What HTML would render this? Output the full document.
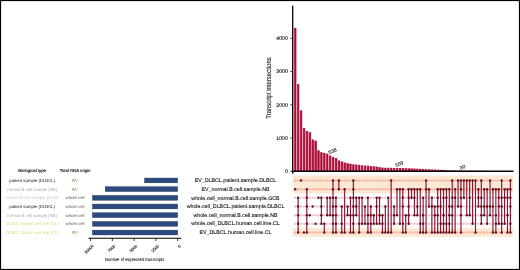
<!DOCTYPE html><html><head><meta charset="utf-8"><style>html,body{margin:0;padding:0;background:#fff;}svg{display:block;will-change:transform;}text{font-family:"Liberation Sans", sans-serif;text-rendering:geometricPrecision;}</style></head><body>
<svg width="520" height="270" viewBox="0 0 520 270">
<defs><linearGradient id="bg" x1="0" y1="0" x2="1" y2="0"><stop offset="0" stop-color="#ec8aa4"/><stop offset="0.28" stop-color="#ba2a50"/><stop offset="0.55" stop-color="#920e34"/><stop offset="0.8" stop-color="#b42348"/><stop offset="1" stop-color="#ec8aa4"/></linearGradient></defs>
<rect x="0" y="0" width="520" height="270" fill="#fff"/>
<rect x="292.6" y="175.5" width="220.40" height="17.97" fill="#fde8d3"/>
<rect x="292.6" y="228.19" width="220.40" height="8.68" fill="#fde8d3"/>
<circle cx="295.20" cy="180.45" r="1.25" fill="#f2bba8"/>
<circle cx="295.20" cy="197.81" r="1.25" fill="#e6c9d2"/>
<circle cx="295.20" cy="206.49" r="1.25" fill="#e6c9d2"/>
<circle cx="295.20" cy="215.17" r="1.25" fill="#e6c9d2"/>
<circle cx="295.20" cy="223.85" r="1.25" fill="#e6c9d2"/>
<circle cx="295.20" cy="232.53" r="1.25" fill="#f2bba8"/>
<circle cx="298.11" cy="180.45" r="1.25" fill="#f2bba8"/>
<circle cx="298.11" cy="189.13" r="1.25" fill="#f2bba8"/>
<circle cx="301.02" cy="189.13" r="1.25" fill="#f2bba8"/>
<circle cx="301.02" cy="197.81" r="1.25" fill="#e6c9d2"/>
<circle cx="301.02" cy="206.49" r="1.25" fill="#e6c9d2"/>
<circle cx="301.02" cy="215.17" r="1.25" fill="#e6c9d2"/>
<circle cx="301.02" cy="223.85" r="1.25" fill="#e6c9d2"/>
<circle cx="301.02" cy="232.53" r="1.25" fill="#f2bba8"/>
<circle cx="303.92" cy="180.45" r="1.25" fill="#f2bba8"/>
<circle cx="303.92" cy="189.13" r="1.25" fill="#f2bba8"/>
<circle cx="303.92" cy="197.81" r="1.25" fill="#e6c9d2"/>
<circle cx="303.92" cy="206.49" r="1.25" fill="#e6c9d2"/>
<circle cx="303.92" cy="215.17" r="1.25" fill="#e6c9d2"/>
<circle cx="303.92" cy="223.85" r="1.25" fill="#e6c9d2"/>
<circle cx="306.83" cy="180.45" r="1.25" fill="#f2bba8"/>
<circle cx="309.74" cy="180.45" r="1.25" fill="#f2bba8"/>
<circle cx="309.74" cy="189.13" r="1.25" fill="#f2bba8"/>
<circle cx="309.74" cy="197.81" r="1.25" fill="#e6c9d2"/>
<circle cx="309.74" cy="206.49" r="1.25" fill="#e6c9d2"/>
<circle cx="309.74" cy="223.85" r="1.25" fill="#e6c9d2"/>
<circle cx="309.74" cy="232.53" r="1.25" fill="#f2bba8"/>
<circle cx="312.65" cy="180.45" r="1.25" fill="#f2bba8"/>
<circle cx="312.65" cy="189.13" r="1.25" fill="#f2bba8"/>
<circle cx="312.65" cy="197.81" r="1.25" fill="#e6c9d2"/>
<circle cx="312.65" cy="215.17" r="1.25" fill="#e6c9d2"/>
<circle cx="312.65" cy="223.85" r="1.25" fill="#e6c9d2"/>
<circle cx="312.65" cy="232.53" r="1.25" fill="#f2bba8"/>
<circle cx="315.56" cy="180.45" r="1.25" fill="#f2bba8"/>
<circle cx="315.56" cy="189.13" r="1.25" fill="#f2bba8"/>
<circle cx="315.56" cy="197.81" r="1.25" fill="#e6c9d2"/>
<circle cx="315.56" cy="206.49" r="1.25" fill="#e6c9d2"/>
<circle cx="315.56" cy="215.17" r="1.25" fill="#e6c9d2"/>
<circle cx="315.56" cy="232.53" r="1.25" fill="#f2bba8"/>
<circle cx="318.46" cy="180.45" r="1.25" fill="#f2bba8"/>
<circle cx="318.46" cy="189.13" r="1.25" fill="#f2bba8"/>
<circle cx="318.46" cy="206.49" r="1.25" fill="#e6c9d2"/>
<circle cx="318.46" cy="215.17" r="1.25" fill="#e6c9d2"/>
<circle cx="318.46" cy="223.85" r="1.25" fill="#e6c9d2"/>
<circle cx="318.46" cy="232.53" r="1.25" fill="#f2bba8"/>
<circle cx="321.37" cy="180.45" r="1.25" fill="#f2bba8"/>
<circle cx="321.37" cy="189.13" r="1.25" fill="#f2bba8"/>
<circle cx="321.37" cy="232.53" r="1.25" fill="#f2bba8"/>
<circle cx="324.28" cy="180.45" r="1.25" fill="#f2bba8"/>
<circle cx="324.28" cy="189.13" r="1.25" fill="#f2bba8"/>
<circle cx="324.28" cy="197.81" r="1.25" fill="#e6c9d2"/>
<circle cx="324.28" cy="206.49" r="1.25" fill="#e6c9d2"/>
<circle cx="324.28" cy="215.17" r="1.25" fill="#e6c9d2"/>
<circle cx="327.19" cy="180.45" r="1.25" fill="#f2bba8"/>
<circle cx="327.19" cy="189.13" r="1.25" fill="#f2bba8"/>
<circle cx="327.19" cy="206.49" r="1.25" fill="#e6c9d2"/>
<circle cx="327.19" cy="223.85" r="1.25" fill="#e6c9d2"/>
<circle cx="327.19" cy="232.53" r="1.25" fill="#f2bba8"/>
<circle cx="330.10" cy="180.45" r="1.25" fill="#f2bba8"/>
<circle cx="330.10" cy="189.13" r="1.25" fill="#f2bba8"/>
<circle cx="330.10" cy="206.49" r="1.25" fill="#e6c9d2"/>
<circle cx="330.10" cy="223.85" r="1.25" fill="#e6c9d2"/>
<circle cx="330.10" cy="232.53" r="1.25" fill="#f2bba8"/>
<circle cx="335.91" cy="180.45" r="1.25" fill="#f2bba8"/>
<circle cx="335.91" cy="189.13" r="1.25" fill="#f2bba8"/>
<circle cx="338.82" cy="197.81" r="1.25" fill="#e6c9d2"/>
<circle cx="338.82" cy="206.49" r="1.25" fill="#e6c9d2"/>
<circle cx="338.82" cy="215.17" r="1.25" fill="#e6c9d2"/>
<circle cx="338.82" cy="223.85" r="1.25" fill="#e6c9d2"/>
<circle cx="338.82" cy="232.53" r="1.25" fill="#f2bba8"/>
<circle cx="341.73" cy="180.45" r="1.25" fill="#f2bba8"/>
<circle cx="341.73" cy="189.13" r="1.25" fill="#f2bba8"/>
<circle cx="341.73" cy="197.81" r="1.25" fill="#e6c9d2"/>
<circle cx="341.73" cy="215.17" r="1.25" fill="#e6c9d2"/>
<circle cx="344.64" cy="180.45" r="1.25" fill="#f2bba8"/>
<circle cx="344.64" cy="197.81" r="1.25" fill="#e6c9d2"/>
<circle cx="344.64" cy="206.49" r="1.25" fill="#e6c9d2"/>
<circle cx="344.64" cy="215.17" r="1.25" fill="#e6c9d2"/>
<circle cx="344.64" cy="223.85" r="1.25" fill="#e6c9d2"/>
<circle cx="347.54" cy="180.45" r="1.25" fill="#f2bba8"/>
<circle cx="347.54" cy="189.13" r="1.25" fill="#f2bba8"/>
<circle cx="347.54" cy="197.81" r="1.25" fill="#e6c9d2"/>
<circle cx="347.54" cy="223.85" r="1.25" fill="#e6c9d2"/>
<circle cx="347.54" cy="232.53" r="1.25" fill="#f2bba8"/>
<circle cx="350.45" cy="180.45" r="1.25" fill="#f2bba8"/>
<circle cx="350.45" cy="189.13" r="1.25" fill="#f2bba8"/>
<circle cx="350.45" cy="206.49" r="1.25" fill="#e6c9d2"/>
<circle cx="350.45" cy="223.85" r="1.25" fill="#e6c9d2"/>
<circle cx="356.27" cy="180.45" r="1.25" fill="#f2bba8"/>
<circle cx="356.27" cy="189.13" r="1.25" fill="#f2bba8"/>
<circle cx="356.27" cy="223.85" r="1.25" fill="#e6c9d2"/>
<circle cx="356.27" cy="232.53" r="1.25" fill="#f2bba8"/>
<circle cx="359.18" cy="180.45" r="1.25" fill="#f2bba8"/>
<circle cx="359.18" cy="189.13" r="1.25" fill="#f2bba8"/>
<circle cx="359.18" cy="206.49" r="1.25" fill="#e6c9d2"/>
<circle cx="359.18" cy="215.17" r="1.25" fill="#e6c9d2"/>
<circle cx="362.08" cy="180.45" r="1.25" fill="#f2bba8"/>
<circle cx="362.08" cy="189.13" r="1.25" fill="#f2bba8"/>
<circle cx="362.08" cy="206.49" r="1.25" fill="#e6c9d2"/>
<circle cx="362.08" cy="215.17" r="1.25" fill="#e6c9d2"/>
<circle cx="362.08" cy="232.53" r="1.25" fill="#f2bba8"/>
<circle cx="364.99" cy="180.45" r="1.25" fill="#f2bba8"/>
<circle cx="364.99" cy="189.13" r="1.25" fill="#f2bba8"/>
<circle cx="364.99" cy="197.81" r="1.25" fill="#e6c9d2"/>
<circle cx="364.99" cy="215.17" r="1.25" fill="#e6c9d2"/>
<circle cx="364.99" cy="232.53" r="1.25" fill="#f2bba8"/>
<circle cx="367.90" cy="180.45" r="1.25" fill="#f2bba8"/>
<circle cx="367.90" cy="189.13" r="1.25" fill="#f2bba8"/>
<circle cx="367.90" cy="206.49" r="1.25" fill="#e6c9d2"/>
<circle cx="370.81" cy="180.45" r="1.25" fill="#f2bba8"/>
<circle cx="370.81" cy="189.13" r="1.25" fill="#f2bba8"/>
<circle cx="370.81" cy="197.81" r="1.25" fill="#e6c9d2"/>
<circle cx="373.72" cy="180.45" r="1.25" fill="#f2bba8"/>
<circle cx="373.72" cy="189.13" r="1.25" fill="#f2bba8"/>
<circle cx="373.72" cy="197.81" r="1.25" fill="#e6c9d2"/>
<circle cx="373.72" cy="206.49" r="1.25" fill="#e6c9d2"/>
<circle cx="373.72" cy="232.53" r="1.25" fill="#f2bba8"/>
<circle cx="376.62" cy="180.45" r="1.25" fill="#f2bba8"/>
<circle cx="376.62" cy="189.13" r="1.25" fill="#f2bba8"/>
<circle cx="376.62" cy="215.17" r="1.25" fill="#e6c9d2"/>
<circle cx="376.62" cy="232.53" r="1.25" fill="#f2bba8"/>
<circle cx="379.53" cy="180.45" r="1.25" fill="#f2bba8"/>
<circle cx="379.53" cy="189.13" r="1.25" fill="#f2bba8"/>
<circle cx="379.53" cy="206.49" r="1.25" fill="#e6c9d2"/>
<circle cx="379.53" cy="232.53" r="1.25" fill="#f2bba8"/>
<circle cx="382.44" cy="180.45" r="1.25" fill="#f2bba8"/>
<circle cx="382.44" cy="189.13" r="1.25" fill="#f2bba8"/>
<circle cx="382.44" cy="197.81" r="1.25" fill="#e6c9d2"/>
<circle cx="382.44" cy="206.49" r="1.25" fill="#e6c9d2"/>
<circle cx="385.35" cy="180.45" r="1.25" fill="#f2bba8"/>
<circle cx="385.35" cy="189.13" r="1.25" fill="#f2bba8"/>
<circle cx="385.35" cy="197.81" r="1.25" fill="#e6c9d2"/>
<circle cx="385.35" cy="215.17" r="1.25" fill="#e6c9d2"/>
<circle cx="385.35" cy="223.85" r="1.25" fill="#e6c9d2"/>
<circle cx="388.26" cy="180.45" r="1.25" fill="#f2bba8"/>
<circle cx="388.26" cy="189.13" r="1.25" fill="#f2bba8"/>
<circle cx="388.26" cy="206.49" r="1.25" fill="#e6c9d2"/>
<circle cx="388.26" cy="215.17" r="1.25" fill="#e6c9d2"/>
<circle cx="388.26" cy="223.85" r="1.25" fill="#e6c9d2"/>
<circle cx="391.16" cy="189.13" r="1.25" fill="#f2bba8"/>
<circle cx="391.16" cy="197.81" r="1.25" fill="#e6c9d2"/>
<circle cx="391.16" cy="206.49" r="1.25" fill="#e6c9d2"/>
<circle cx="391.16" cy="215.17" r="1.25" fill="#e6c9d2"/>
<circle cx="391.16" cy="223.85" r="1.25" fill="#e6c9d2"/>
<circle cx="394.07" cy="180.45" r="1.25" fill="#f2bba8"/>
<circle cx="394.07" cy="189.13" r="1.25" fill="#f2bba8"/>
<circle cx="394.07" cy="197.81" r="1.25" fill="#e6c9d2"/>
<circle cx="394.07" cy="232.53" r="1.25" fill="#f2bba8"/>
<circle cx="396.98" cy="180.45" r="1.25" fill="#f2bba8"/>
<circle cx="396.98" cy="197.81" r="1.25" fill="#e6c9d2"/>
<circle cx="396.98" cy="206.49" r="1.25" fill="#e6c9d2"/>
<circle cx="396.98" cy="223.85" r="1.25" fill="#e6c9d2"/>
<circle cx="396.98" cy="232.53" r="1.25" fill="#f2bba8"/>
<circle cx="399.89" cy="180.45" r="1.25" fill="#f2bba8"/>
<circle cx="399.89" cy="197.81" r="1.25" fill="#e6c9d2"/>
<circle cx="399.89" cy="206.49" r="1.25" fill="#e6c9d2"/>
<circle cx="399.89" cy="215.17" r="1.25" fill="#e6c9d2"/>
<circle cx="399.89" cy="232.53" r="1.25" fill="#f2bba8"/>
<circle cx="402.80" cy="180.45" r="1.25" fill="#f2bba8"/>
<circle cx="402.80" cy="215.17" r="1.25" fill="#e6c9d2"/>
<circle cx="405.70" cy="180.45" r="1.25" fill="#f2bba8"/>
<circle cx="405.70" cy="189.13" r="1.25" fill="#f2bba8"/>
<circle cx="405.70" cy="197.81" r="1.25" fill="#e6c9d2"/>
<circle cx="405.70" cy="206.49" r="1.25" fill="#e6c9d2"/>
<circle cx="405.70" cy="223.85" r="1.25" fill="#e6c9d2"/>
<circle cx="408.61" cy="180.45" r="1.25" fill="#f2bba8"/>
<circle cx="408.61" cy="232.53" r="1.25" fill="#f2bba8"/>
<circle cx="411.52" cy="180.45" r="1.25" fill="#f2bba8"/>
<circle cx="411.52" cy="206.49" r="1.25" fill="#e6c9d2"/>
<circle cx="411.52" cy="215.17" r="1.25" fill="#e6c9d2"/>
<circle cx="411.52" cy="223.85" r="1.25" fill="#e6c9d2"/>
<circle cx="411.52" cy="232.53" r="1.25" fill="#f2bba8"/>
<circle cx="414.43" cy="180.45" r="1.25" fill="#f2bba8"/>
<circle cx="414.43" cy="206.49" r="1.25" fill="#e6c9d2"/>
<circle cx="414.43" cy="223.85" r="1.25" fill="#e6c9d2"/>
<circle cx="414.43" cy="232.53" r="1.25" fill="#f2bba8"/>
<circle cx="417.34" cy="180.45" r="1.25" fill="#f2bba8"/>
<circle cx="417.34" cy="197.81" r="1.25" fill="#e6c9d2"/>
<circle cx="417.34" cy="223.85" r="1.25" fill="#e6c9d2"/>
<circle cx="417.34" cy="232.53" r="1.25" fill="#f2bba8"/>
<circle cx="420.24" cy="180.45" r="1.25" fill="#f2bba8"/>
<circle cx="420.24" cy="197.81" r="1.25" fill="#e6c9d2"/>
<circle cx="420.24" cy="206.49" r="1.25" fill="#e6c9d2"/>
<circle cx="420.24" cy="215.17" r="1.25" fill="#e6c9d2"/>
<circle cx="423.15" cy="180.45" r="1.25" fill="#f2bba8"/>
<circle cx="423.15" cy="189.13" r="1.25" fill="#f2bba8"/>
<circle cx="423.15" cy="206.49" r="1.25" fill="#e6c9d2"/>
<circle cx="426.06" cy="197.81" r="1.25" fill="#e6c9d2"/>
<circle cx="426.06" cy="206.49" r="1.25" fill="#e6c9d2"/>
<circle cx="426.06" cy="215.17" r="1.25" fill="#e6c9d2"/>
<circle cx="426.06" cy="223.85" r="1.25" fill="#e6c9d2"/>
<circle cx="428.97" cy="180.45" r="1.25" fill="#f2bba8"/>
<circle cx="428.97" cy="197.81" r="1.25" fill="#e6c9d2"/>
<circle cx="428.97" cy="215.17" r="1.25" fill="#e6c9d2"/>
<circle cx="428.97" cy="223.85" r="1.25" fill="#e6c9d2"/>
<circle cx="428.97" cy="232.53" r="1.25" fill="#f2bba8"/>
<circle cx="431.88" cy="180.45" r="1.25" fill="#f2bba8"/>
<circle cx="431.88" cy="189.13" r="1.25" fill="#f2bba8"/>
<circle cx="431.88" cy="215.17" r="1.25" fill="#e6c9d2"/>
<circle cx="431.88" cy="223.85" r="1.25" fill="#e6c9d2"/>
<circle cx="434.78" cy="180.45" r="1.25" fill="#f2bba8"/>
<circle cx="434.78" cy="189.13" r="1.25" fill="#f2bba8"/>
<circle cx="434.78" cy="197.81" r="1.25" fill="#e6c9d2"/>
<circle cx="434.78" cy="223.85" r="1.25" fill="#e6c9d2"/>
<circle cx="437.69" cy="180.45" r="1.25" fill="#f2bba8"/>
<circle cx="437.69" cy="223.85" r="1.25" fill="#e6c9d2"/>
<circle cx="440.60" cy="180.45" r="1.25" fill="#f2bba8"/>
<circle cx="440.60" cy="197.81" r="1.25" fill="#e6c9d2"/>
<circle cx="440.60" cy="215.17" r="1.25" fill="#e6c9d2"/>
<circle cx="443.51" cy="180.45" r="1.25" fill="#f2bba8"/>
<circle cx="443.51" cy="206.49" r="1.25" fill="#e6c9d2"/>
<circle cx="446.42" cy="180.45" r="1.25" fill="#f2bba8"/>
<circle cx="446.42" cy="206.49" r="1.25" fill="#e6c9d2"/>
<circle cx="446.42" cy="215.17" r="1.25" fill="#e6c9d2"/>
<circle cx="449.32" cy="180.45" r="1.25" fill="#f2bba8"/>
<circle cx="449.32" cy="197.81" r="1.25" fill="#e6c9d2"/>
<circle cx="452.23" cy="189.13" r="1.25" fill="#f2bba8"/>
<circle cx="452.23" cy="223.85" r="1.25" fill="#e6c9d2"/>
<circle cx="455.14" cy="180.45" r="1.25" fill="#f2bba8"/>
<circle cx="455.14" cy="206.49" r="1.25" fill="#e6c9d2"/>
<circle cx="455.14" cy="215.17" r="1.25" fill="#e6c9d2"/>
<circle cx="455.14" cy="223.85" r="1.25" fill="#e6c9d2"/>
<circle cx="458.05" cy="189.13" r="1.25" fill="#f2bba8"/>
<circle cx="458.05" cy="197.81" r="1.25" fill="#e6c9d2"/>
<circle cx="458.05" cy="215.17" r="1.25" fill="#e6c9d2"/>
<circle cx="458.05" cy="223.85" r="1.25" fill="#e6c9d2"/>
<circle cx="458.05" cy="232.53" r="1.25" fill="#f2bba8"/>
<circle cx="460.96" cy="223.85" r="1.25" fill="#e6c9d2"/>
<circle cx="463.86" cy="189.13" r="1.25" fill="#f2bba8"/>
<circle cx="463.86" cy="206.49" r="1.25" fill="#e6c9d2"/>
<circle cx="463.86" cy="215.17" r="1.25" fill="#e6c9d2"/>
<circle cx="463.86" cy="223.85" r="1.25" fill="#e6c9d2"/>
<circle cx="463.86" cy="232.53" r="1.25" fill="#f2bba8"/>
<circle cx="466.77" cy="189.13" r="1.25" fill="#f2bba8"/>
<circle cx="466.77" cy="197.81" r="1.25" fill="#e6c9d2"/>
<circle cx="466.77" cy="206.49" r="1.25" fill="#e6c9d2"/>
<circle cx="466.77" cy="223.85" r="1.25" fill="#e6c9d2"/>
<circle cx="466.77" cy="232.53" r="1.25" fill="#f2bba8"/>
<circle cx="469.68" cy="189.13" r="1.25" fill="#f2bba8"/>
<circle cx="469.68" cy="206.49" r="1.25" fill="#e6c9d2"/>
<circle cx="469.68" cy="223.85" r="1.25" fill="#e6c9d2"/>
<circle cx="469.68" cy="232.53" r="1.25" fill="#f2bba8"/>
<circle cx="472.59" cy="189.13" r="1.25" fill="#f2bba8"/>
<circle cx="472.59" cy="197.81" r="1.25" fill="#e6c9d2"/>
<circle cx="472.59" cy="206.49" r="1.25" fill="#e6c9d2"/>
<circle cx="472.59" cy="215.17" r="1.25" fill="#e6c9d2"/>
<circle cx="472.59" cy="232.53" r="1.25" fill="#f2bba8"/>
<circle cx="475.50" cy="189.13" r="1.25" fill="#f2bba8"/>
<circle cx="475.50" cy="197.81" r="1.25" fill="#e6c9d2"/>
<circle cx="475.50" cy="206.49" r="1.25" fill="#e6c9d2"/>
<circle cx="475.50" cy="215.17" r="1.25" fill="#e6c9d2"/>
<circle cx="475.50" cy="223.85" r="1.25" fill="#e6c9d2"/>
<circle cx="478.40" cy="180.45" r="1.25" fill="#f2bba8"/>
<circle cx="478.40" cy="215.17" r="1.25" fill="#e6c9d2"/>
<circle cx="478.40" cy="223.85" r="1.25" fill="#e6c9d2"/>
<circle cx="478.40" cy="232.53" r="1.25" fill="#f2bba8"/>
<circle cx="481.31" cy="189.13" r="1.25" fill="#f2bba8"/>
<circle cx="481.31" cy="232.53" r="1.25" fill="#f2bba8"/>
<circle cx="484.22" cy="180.45" r="1.25" fill="#f2bba8"/>
<circle cx="484.22" cy="197.81" r="1.25" fill="#e6c9d2"/>
<circle cx="484.22" cy="223.85" r="1.25" fill="#e6c9d2"/>
<circle cx="484.22" cy="232.53" r="1.25" fill="#f2bba8"/>
<circle cx="487.13" cy="180.45" r="1.25" fill="#f2bba8"/>
<circle cx="487.13" cy="197.81" r="1.25" fill="#e6c9d2"/>
<circle cx="487.13" cy="215.17" r="1.25" fill="#e6c9d2"/>
<circle cx="487.13" cy="232.53" r="1.25" fill="#f2bba8"/>
<circle cx="490.04" cy="189.13" r="1.25" fill="#f2bba8"/>
<circle cx="490.04" cy="197.81" r="1.25" fill="#e6c9d2"/>
<circle cx="490.04" cy="223.85" r="1.25" fill="#e6c9d2"/>
<circle cx="490.04" cy="232.53" r="1.25" fill="#f2bba8"/>
<circle cx="492.94" cy="180.45" r="1.25" fill="#f2bba8"/>
<circle cx="492.94" cy="197.81" r="1.25" fill="#e6c9d2"/>
<circle cx="492.94" cy="215.17" r="1.25" fill="#e6c9d2"/>
<circle cx="492.94" cy="223.85" r="1.25" fill="#e6c9d2"/>
<circle cx="495.85" cy="180.45" r="1.25" fill="#f2bba8"/>
<circle cx="495.85" cy="197.81" r="1.25" fill="#e6c9d2"/>
<circle cx="495.85" cy="206.49" r="1.25" fill="#e6c9d2"/>
<circle cx="498.76" cy="180.45" r="1.25" fill="#f2bba8"/>
<circle cx="498.76" cy="215.17" r="1.25" fill="#e6c9d2"/>
<circle cx="498.76" cy="232.53" r="1.25" fill="#f2bba8"/>
<circle cx="501.67" cy="189.13" r="1.25" fill="#f2bba8"/>
<circle cx="501.67" cy="215.17" r="1.25" fill="#e6c9d2"/>
<circle cx="504.58" cy="180.45" r="1.25" fill="#f2bba8"/>
<circle cx="504.58" cy="206.49" r="1.25" fill="#e6c9d2"/>
<circle cx="504.58" cy="215.17" r="1.25" fill="#e6c9d2"/>
<circle cx="504.58" cy="232.53" r="1.25" fill="#f2bba8"/>
<circle cx="507.48" cy="180.45" r="1.25" fill="#f2bba8"/>
<circle cx="507.48" cy="206.49" r="1.25" fill="#e6c9d2"/>
<circle cx="507.48" cy="223.85" r="1.25" fill="#e6c9d2"/>
<circle cx="510.39" cy="215.17" r="1.25" fill="#e6c9d2"/>
<circle cx="295.20" cy="189.13" r="1.25" fill="#6c0920"/>
<line x1="298.11" y1="197.81" x2="298.11" y2="232.53" stroke="#8a1232" stroke-width="1.15"/>
<circle cx="298.11" cy="197.81" r="1.25" fill="#6c0920"/>
<circle cx="298.11" cy="206.49" r="1.25" fill="#6c0920"/>
<circle cx="298.11" cy="215.17" r="1.25" fill="#6c0920"/>
<circle cx="298.11" cy="223.85" r="1.25" fill="#6c0920"/>
<circle cx="298.11" cy="232.53" r="1.25" fill="#6c0920"/>
<circle cx="301.02" cy="180.45" r="1.25" fill="#6c0920"/>
<circle cx="303.92" cy="232.53" r="1.25" fill="#6c0920"/>
<line x1="306.83" y1="189.13" x2="306.83" y2="232.53" stroke="#8a1232" stroke-width="1.15"/>
<circle cx="306.83" cy="189.13" r="1.25" fill="#6c0920"/>
<circle cx="306.83" cy="197.81" r="1.25" fill="#6c0920"/>
<circle cx="306.83" cy="206.49" r="1.25" fill="#6c0920"/>
<circle cx="306.83" cy="215.17" r="1.25" fill="#6c0920"/>
<circle cx="306.83" cy="223.85" r="1.25" fill="#6c0920"/>
<circle cx="306.83" cy="232.53" r="1.25" fill="#6c0920"/>
<circle cx="309.74" cy="215.17" r="1.25" fill="#6c0920"/>
<circle cx="312.65" cy="206.49" r="1.25" fill="#6c0920"/>
<circle cx="315.56" cy="223.85" r="1.25" fill="#6c0920"/>
<circle cx="318.46" cy="197.81" r="1.25" fill="#6c0920"/>
<line x1="321.37" y1="197.81" x2="321.37" y2="223.85" stroke="#8a1232" stroke-width="1.15"/>
<circle cx="321.37" cy="197.81" r="1.25" fill="#6c0920"/>
<circle cx="321.37" cy="206.49" r="1.25" fill="#6c0920"/>
<circle cx="321.37" cy="215.17" r="1.25" fill="#6c0920"/>
<circle cx="321.37" cy="223.85" r="1.25" fill="#6c0920"/>
<line x1="324.28" y1="223.85" x2="324.28" y2="232.53" stroke="#8a1232" stroke-width="1.15"/>
<circle cx="324.28" cy="223.85" r="1.25" fill="#6c0920"/>
<circle cx="324.28" cy="232.53" r="1.25" fill="#6c0920"/>
<line x1="327.19" y1="197.81" x2="327.19" y2="215.17" stroke="#8a1232" stroke-width="1.15"/>
<circle cx="327.19" cy="197.81" r="1.25" fill="#6c0920"/>
<circle cx="327.19" cy="215.17" r="1.25" fill="#6c0920"/>
<line x1="330.10" y1="197.81" x2="330.10" y2="215.17" stroke="#8a1232" stroke-width="1.15"/>
<circle cx="330.10" cy="197.81" r="1.25" fill="#6c0920"/>
<circle cx="330.10" cy="215.17" r="1.25" fill="#6c0920"/>
<line x1="333.00" y1="180.45" x2="333.00" y2="232.53" stroke="#8a1232" stroke-width="1.15"/>
<circle cx="333.00" cy="180.45" r="1.25" fill="#6c0920"/>
<circle cx="333.00" cy="189.13" r="1.25" fill="#6c0920"/>
<circle cx="333.00" cy="197.81" r="1.25" fill="#6c0920"/>
<circle cx="333.00" cy="206.49" r="1.25" fill="#6c0920"/>
<circle cx="333.00" cy="215.17" r="1.25" fill="#6c0920"/>
<circle cx="333.00" cy="223.85" r="1.25" fill="#6c0920"/>
<circle cx="333.00" cy="232.53" r="1.25" fill="#6c0920"/>
<line x1="335.91" y1="197.81" x2="335.91" y2="232.53" stroke="#8a1232" stroke-width="1.15"/>
<circle cx="335.91" cy="197.81" r="1.25" fill="#6c0920"/>
<circle cx="335.91" cy="206.49" r="1.25" fill="#6c0920"/>
<circle cx="335.91" cy="215.17" r="1.25" fill="#6c0920"/>
<circle cx="335.91" cy="223.85" r="1.25" fill="#6c0920"/>
<circle cx="335.91" cy="232.53" r="1.25" fill="#6c0920"/>
<line x1="338.82" y1="180.45" x2="338.82" y2="189.13" stroke="#8a1232" stroke-width="1.15"/>
<circle cx="338.82" cy="180.45" r="1.25" fill="#6c0920"/>
<circle cx="338.82" cy="189.13" r="1.25" fill="#6c0920"/>
<line x1="341.73" y1="206.49" x2="341.73" y2="232.53" stroke="#8a1232" stroke-width="1.15"/>
<circle cx="341.73" cy="206.49" r="1.25" fill="#6c0920"/>
<circle cx="341.73" cy="223.85" r="1.25" fill="#6c0920"/>
<circle cx="341.73" cy="232.53" r="1.25" fill="#6c0920"/>
<line x1="344.64" y1="189.13" x2="344.64" y2="232.53" stroke="#8a1232" stroke-width="1.15"/>
<circle cx="344.64" cy="189.13" r="1.25" fill="#6c0920"/>
<circle cx="344.64" cy="232.53" r="1.25" fill="#6c0920"/>
<line x1="347.54" y1="206.49" x2="347.54" y2="215.17" stroke="#8a1232" stroke-width="1.15"/>
<circle cx="347.54" cy="206.49" r="1.25" fill="#6c0920"/>
<circle cx="347.54" cy="215.17" r="1.25" fill="#6c0920"/>
<line x1="350.45" y1="197.81" x2="350.45" y2="232.53" stroke="#8a1232" stroke-width="1.15"/>
<circle cx="350.45" cy="197.81" r="1.25" fill="#6c0920"/>
<circle cx="350.45" cy="215.17" r="1.25" fill="#6c0920"/>
<circle cx="350.45" cy="232.53" r="1.25" fill="#6c0920"/>
<line x1="353.36" y1="180.45" x2="353.36" y2="232.53" stroke="#8a1232" stroke-width="1.15"/>
<circle cx="353.36" cy="180.45" r="1.25" fill="#6c0920"/>
<circle cx="353.36" cy="189.13" r="1.25" fill="#6c0920"/>
<circle cx="353.36" cy="197.81" r="1.25" fill="#6c0920"/>
<circle cx="353.36" cy="206.49" r="1.25" fill="#6c0920"/>
<circle cx="353.36" cy="215.17" r="1.25" fill="#6c0920"/>
<circle cx="353.36" cy="223.85" r="1.25" fill="#6c0920"/>
<circle cx="353.36" cy="232.53" r="1.25" fill="#6c0920"/>
<line x1="356.27" y1="197.81" x2="356.27" y2="215.17" stroke="#8a1232" stroke-width="1.15"/>
<circle cx="356.27" cy="197.81" r="1.25" fill="#6c0920"/>
<circle cx="356.27" cy="206.49" r="1.25" fill="#6c0920"/>
<circle cx="356.27" cy="215.17" r="1.25" fill="#6c0920"/>
<line x1="359.18" y1="197.81" x2="359.18" y2="232.53" stroke="#8a1232" stroke-width="1.15"/>
<circle cx="359.18" cy="197.81" r="1.25" fill="#6c0920"/>
<circle cx="359.18" cy="223.85" r="1.25" fill="#6c0920"/>
<circle cx="359.18" cy="232.53" r="1.25" fill="#6c0920"/>
<line x1="362.08" y1="197.81" x2="362.08" y2="223.85" stroke="#8a1232" stroke-width="1.15"/>
<circle cx="362.08" cy="197.81" r="1.25" fill="#6c0920"/>
<circle cx="362.08" cy="223.85" r="1.25" fill="#6c0920"/>
<line x1="364.99" y1="206.49" x2="364.99" y2="223.85" stroke="#8a1232" stroke-width="1.15"/>
<circle cx="364.99" cy="206.49" r="1.25" fill="#6c0920"/>
<circle cx="364.99" cy="223.85" r="1.25" fill="#6c0920"/>
<line x1="367.90" y1="197.81" x2="367.90" y2="232.53" stroke="#8a1232" stroke-width="1.15"/>
<circle cx="367.90" cy="197.81" r="1.25" fill="#6c0920"/>
<circle cx="367.90" cy="215.17" r="1.25" fill="#6c0920"/>
<circle cx="367.90" cy="223.85" r="1.25" fill="#6c0920"/>
<circle cx="367.90" cy="232.53" r="1.25" fill="#6c0920"/>
<line x1="370.81" y1="206.49" x2="370.81" y2="232.53" stroke="#8a1232" stroke-width="1.15"/>
<circle cx="370.81" cy="206.49" r="1.25" fill="#6c0920"/>
<circle cx="370.81" cy="215.17" r="1.25" fill="#6c0920"/>
<circle cx="370.81" cy="223.85" r="1.25" fill="#6c0920"/>
<circle cx="370.81" cy="232.53" r="1.25" fill="#6c0920"/>
<line x1="373.72" y1="215.17" x2="373.72" y2="223.85" stroke="#8a1232" stroke-width="1.15"/>
<circle cx="373.72" cy="215.17" r="1.25" fill="#6c0920"/>
<circle cx="373.72" cy="223.85" r="1.25" fill="#6c0920"/>
<line x1="376.62" y1="197.81" x2="376.62" y2="223.85" stroke="#8a1232" stroke-width="1.15"/>
<circle cx="376.62" cy="197.81" r="1.25" fill="#6c0920"/>
<circle cx="376.62" cy="206.49" r="1.25" fill="#6c0920"/>
<circle cx="376.62" cy="223.85" r="1.25" fill="#6c0920"/>
<line x1="379.53" y1="197.81" x2="379.53" y2="223.85" stroke="#8a1232" stroke-width="1.15"/>
<circle cx="379.53" cy="197.81" r="1.25" fill="#6c0920"/>
<circle cx="379.53" cy="215.17" r="1.25" fill="#6c0920"/>
<circle cx="379.53" cy="223.85" r="1.25" fill="#6c0920"/>
<line x1="382.44" y1="215.17" x2="382.44" y2="232.53" stroke="#8a1232" stroke-width="1.15"/>
<circle cx="382.44" cy="215.17" r="1.25" fill="#6c0920"/>
<circle cx="382.44" cy="223.85" r="1.25" fill="#6c0920"/>
<circle cx="382.44" cy="232.53" r="1.25" fill="#6c0920"/>
<line x1="385.35" y1="206.49" x2="385.35" y2="232.53" stroke="#8a1232" stroke-width="1.15"/>
<circle cx="385.35" cy="206.49" r="1.25" fill="#6c0920"/>
<circle cx="385.35" cy="232.53" r="1.25" fill="#6c0920"/>
<line x1="388.26" y1="197.81" x2="388.26" y2="232.53" stroke="#8a1232" stroke-width="1.15"/>
<circle cx="388.26" cy="197.81" r="1.25" fill="#6c0920"/>
<circle cx="388.26" cy="232.53" r="1.25" fill="#6c0920"/>
<line x1="391.16" y1="180.45" x2="391.16" y2="232.53" stroke="#8a1232" stroke-width="1.15"/>
<circle cx="391.16" cy="180.45" r="1.25" fill="#6c0920"/>
<circle cx="391.16" cy="232.53" r="1.25" fill="#6c0920"/>
<line x1="394.07" y1="206.49" x2="394.07" y2="223.85" stroke="#8a1232" stroke-width="1.15"/>
<circle cx="394.07" cy="206.49" r="1.25" fill="#6c0920"/>
<circle cx="394.07" cy="215.17" r="1.25" fill="#6c0920"/>
<circle cx="394.07" cy="223.85" r="1.25" fill="#6c0920"/>
<line x1="396.98" y1="189.13" x2="396.98" y2="215.17" stroke="#8a1232" stroke-width="1.15"/>
<circle cx="396.98" cy="189.13" r="1.25" fill="#6c0920"/>
<circle cx="396.98" cy="215.17" r="1.25" fill="#6c0920"/>
<line x1="399.89" y1="189.13" x2="399.89" y2="223.85" stroke="#8a1232" stroke-width="1.15"/>
<circle cx="399.89" cy="189.13" r="1.25" fill="#6c0920"/>
<circle cx="399.89" cy="223.85" r="1.25" fill="#6c0920"/>
<line x1="402.80" y1="189.13" x2="402.80" y2="232.53" stroke="#8a1232" stroke-width="1.15"/>
<circle cx="402.80" cy="189.13" r="1.25" fill="#6c0920"/>
<circle cx="402.80" cy="197.81" r="1.25" fill="#6c0920"/>
<circle cx="402.80" cy="206.49" r="1.25" fill="#6c0920"/>
<circle cx="402.80" cy="223.85" r="1.25" fill="#6c0920"/>
<circle cx="402.80" cy="232.53" r="1.25" fill="#6c0920"/>
<line x1="405.70" y1="215.17" x2="405.70" y2="232.53" stroke="#8a1232" stroke-width="1.15"/>
<circle cx="405.70" cy="215.17" r="1.25" fill="#6c0920"/>
<circle cx="405.70" cy="232.53" r="1.25" fill="#6c0920"/>
<line x1="408.61" y1="189.13" x2="408.61" y2="223.85" stroke="#8a1232" stroke-width="1.15"/>
<circle cx="408.61" cy="189.13" r="1.25" fill="#6c0920"/>
<circle cx="408.61" cy="197.81" r="1.25" fill="#6c0920"/>
<circle cx="408.61" cy="206.49" r="1.25" fill="#6c0920"/>
<circle cx="408.61" cy="215.17" r="1.25" fill="#6c0920"/>
<circle cx="408.61" cy="223.85" r="1.25" fill="#6c0920"/>
<line x1="411.52" y1="189.13" x2="411.52" y2="197.81" stroke="#8a1232" stroke-width="1.15"/>
<circle cx="411.52" cy="189.13" r="1.25" fill="#6c0920"/>
<circle cx="411.52" cy="197.81" r="1.25" fill="#6c0920"/>
<line x1="414.43" y1="189.13" x2="414.43" y2="215.17" stroke="#8a1232" stroke-width="1.15"/>
<circle cx="414.43" cy="189.13" r="1.25" fill="#6c0920"/>
<circle cx="414.43" cy="197.81" r="1.25" fill="#6c0920"/>
<circle cx="414.43" cy="215.17" r="1.25" fill="#6c0920"/>
<line x1="417.34" y1="189.13" x2="417.34" y2="215.17" stroke="#8a1232" stroke-width="1.15"/>
<circle cx="417.34" cy="189.13" r="1.25" fill="#6c0920"/>
<circle cx="417.34" cy="206.49" r="1.25" fill="#6c0920"/>
<circle cx="417.34" cy="215.17" r="1.25" fill="#6c0920"/>
<line x1="420.24" y1="189.13" x2="420.24" y2="232.53" stroke="#8a1232" stroke-width="1.15"/>
<circle cx="420.24" cy="189.13" r="1.25" fill="#6c0920"/>
<circle cx="420.24" cy="223.85" r="1.25" fill="#6c0920"/>
<circle cx="420.24" cy="232.53" r="1.25" fill="#6c0920"/>
<line x1="423.15" y1="197.81" x2="423.15" y2="232.53" stroke="#8a1232" stroke-width="1.15"/>
<circle cx="423.15" cy="197.81" r="1.25" fill="#6c0920"/>
<circle cx="423.15" cy="215.17" r="1.25" fill="#6c0920"/>
<circle cx="423.15" cy="223.85" r="1.25" fill="#6c0920"/>
<circle cx="423.15" cy="232.53" r="1.25" fill="#6c0920"/>
<line x1="426.06" y1="180.45" x2="426.06" y2="232.53" stroke="#8a1232" stroke-width="1.15"/>
<circle cx="426.06" cy="180.45" r="1.25" fill="#6c0920"/>
<circle cx="426.06" cy="189.13" r="1.25" fill="#6c0920"/>
<circle cx="426.06" cy="232.53" r="1.25" fill="#6c0920"/>
<line x1="428.97" y1="189.13" x2="428.97" y2="206.49" stroke="#8a1232" stroke-width="1.15"/>
<circle cx="428.97" cy="189.13" r="1.25" fill="#6c0920"/>
<circle cx="428.97" cy="206.49" r="1.25" fill="#6c0920"/>
<line x1="431.88" y1="197.81" x2="431.88" y2="232.53" stroke="#8a1232" stroke-width="1.15"/>
<circle cx="431.88" cy="197.81" r="1.25" fill="#6c0920"/>
<circle cx="431.88" cy="206.49" r="1.25" fill="#6c0920"/>
<circle cx="431.88" cy="232.53" r="1.25" fill="#6c0920"/>
<line x1="434.78" y1="206.49" x2="434.78" y2="232.53" stroke="#8a1232" stroke-width="1.15"/>
<circle cx="434.78" cy="206.49" r="1.25" fill="#6c0920"/>
<circle cx="434.78" cy="215.17" r="1.25" fill="#6c0920"/>
<circle cx="434.78" cy="232.53" r="1.25" fill="#6c0920"/>
<line x1="437.69" y1="189.13" x2="437.69" y2="232.53" stroke="#8a1232" stroke-width="1.15"/>
<circle cx="437.69" cy="189.13" r="1.25" fill="#6c0920"/>
<circle cx="437.69" cy="197.81" r="1.25" fill="#6c0920"/>
<circle cx="437.69" cy="206.49" r="1.25" fill="#6c0920"/>
<circle cx="437.69" cy="215.17" r="1.25" fill="#6c0920"/>
<circle cx="437.69" cy="232.53" r="1.25" fill="#6c0920"/>
<line x1="440.60" y1="189.13" x2="440.60" y2="232.53" stroke="#8a1232" stroke-width="1.15"/>
<circle cx="440.60" cy="189.13" r="1.25" fill="#6c0920"/>
<circle cx="440.60" cy="206.49" r="1.25" fill="#6c0920"/>
<circle cx="440.60" cy="223.85" r="1.25" fill="#6c0920"/>
<circle cx="440.60" cy="232.53" r="1.25" fill="#6c0920"/>
<line x1="443.51" y1="189.13" x2="443.51" y2="232.53" stroke="#8a1232" stroke-width="1.15"/>
<circle cx="443.51" cy="189.13" r="1.25" fill="#6c0920"/>
<circle cx="443.51" cy="197.81" r="1.25" fill="#6c0920"/>
<circle cx="443.51" cy="215.17" r="1.25" fill="#6c0920"/>
<circle cx="443.51" cy="223.85" r="1.25" fill="#6c0920"/>
<circle cx="443.51" cy="232.53" r="1.25" fill="#6c0920"/>
<line x1="446.42" y1="189.13" x2="446.42" y2="232.53" stroke="#8a1232" stroke-width="1.15"/>
<circle cx="446.42" cy="189.13" r="1.25" fill="#6c0920"/>
<circle cx="446.42" cy="197.81" r="1.25" fill="#6c0920"/>
<circle cx="446.42" cy="223.85" r="1.25" fill="#6c0920"/>
<circle cx="446.42" cy="232.53" r="1.25" fill="#6c0920"/>
<line x1="449.32" y1="189.13" x2="449.32" y2="232.53" stroke="#8a1232" stroke-width="1.15"/>
<circle cx="449.32" cy="189.13" r="1.25" fill="#6c0920"/>
<circle cx="449.32" cy="206.49" r="1.25" fill="#6c0920"/>
<circle cx="449.32" cy="215.17" r="1.25" fill="#6c0920"/>
<circle cx="449.32" cy="223.85" r="1.25" fill="#6c0920"/>
<circle cx="449.32" cy="232.53" r="1.25" fill="#6c0920"/>
<line x1="452.23" y1="180.45" x2="452.23" y2="232.53" stroke="#8a1232" stroke-width="1.15"/>
<circle cx="452.23" cy="180.45" r="1.25" fill="#6c0920"/>
<circle cx="452.23" cy="197.81" r="1.25" fill="#6c0920"/>
<circle cx="452.23" cy="206.49" r="1.25" fill="#6c0920"/>
<circle cx="452.23" cy="215.17" r="1.25" fill="#6c0920"/>
<circle cx="452.23" cy="232.53" r="1.25" fill="#6c0920"/>
<line x1="455.14" y1="189.13" x2="455.14" y2="232.53" stroke="#8a1232" stroke-width="1.15"/>
<circle cx="455.14" cy="189.13" r="1.25" fill="#6c0920"/>
<circle cx="455.14" cy="197.81" r="1.25" fill="#6c0920"/>
<circle cx="455.14" cy="232.53" r="1.25" fill="#6c0920"/>
<line x1="458.05" y1="180.45" x2="458.05" y2="206.49" stroke="#8a1232" stroke-width="1.15"/>
<circle cx="458.05" cy="180.45" r="1.25" fill="#6c0920"/>
<circle cx="458.05" cy="206.49" r="1.25" fill="#6c0920"/>
<line x1="460.96" y1="180.45" x2="460.96" y2="232.53" stroke="#8a1232" stroke-width="1.15"/>
<circle cx="460.96" cy="180.45" r="1.25" fill="#6c0920"/>
<circle cx="460.96" cy="189.13" r="1.25" fill="#6c0920"/>
<circle cx="460.96" cy="197.81" r="1.25" fill="#6c0920"/>
<circle cx="460.96" cy="206.49" r="1.25" fill="#6c0920"/>
<circle cx="460.96" cy="215.17" r="1.25" fill="#6c0920"/>
<circle cx="460.96" cy="232.53" r="1.25" fill="#6c0920"/>
<line x1="463.86" y1="180.45" x2="463.86" y2="197.81" stroke="#8a1232" stroke-width="1.15"/>
<circle cx="463.86" cy="180.45" r="1.25" fill="#6c0920"/>
<circle cx="463.86" cy="197.81" r="1.25" fill="#6c0920"/>
<line x1="466.77" y1="180.45" x2="466.77" y2="215.17" stroke="#8a1232" stroke-width="1.15"/>
<circle cx="466.77" cy="180.45" r="1.25" fill="#6c0920"/>
<circle cx="466.77" cy="215.17" r="1.25" fill="#6c0920"/>
<line x1="469.68" y1="180.45" x2="469.68" y2="215.17" stroke="#8a1232" stroke-width="1.15"/>
<circle cx="469.68" cy="180.45" r="1.25" fill="#6c0920"/>
<circle cx="469.68" cy="197.81" r="1.25" fill="#6c0920"/>
<circle cx="469.68" cy="215.17" r="1.25" fill="#6c0920"/>
<line x1="472.59" y1="180.45" x2="472.59" y2="223.85" stroke="#8a1232" stroke-width="1.15"/>
<circle cx="472.59" cy="180.45" r="1.25" fill="#6c0920"/>
<circle cx="472.59" cy="223.85" r="1.25" fill="#6c0920"/>
<line x1="475.50" y1="180.45" x2="475.50" y2="232.53" stroke="#8a1232" stroke-width="1.15"/>
<circle cx="475.50" cy="180.45" r="1.25" fill="#6c0920"/>
<circle cx="475.50" cy="232.53" r="1.25" fill="#6c0920"/>
<line x1="478.40" y1="189.13" x2="478.40" y2="206.49" stroke="#8a1232" stroke-width="1.15"/>
<circle cx="478.40" cy="189.13" r="1.25" fill="#6c0920"/>
<circle cx="478.40" cy="197.81" r="1.25" fill="#6c0920"/>
<circle cx="478.40" cy="206.49" r="1.25" fill="#6c0920"/>
<line x1="481.31" y1="180.45" x2="481.31" y2="223.85" stroke="#8a1232" stroke-width="1.15"/>
<circle cx="481.31" cy="180.45" r="1.25" fill="#6c0920"/>
<circle cx="481.31" cy="197.81" r="1.25" fill="#6c0920"/>
<circle cx="481.31" cy="206.49" r="1.25" fill="#6c0920"/>
<circle cx="481.31" cy="215.17" r="1.25" fill="#6c0920"/>
<circle cx="481.31" cy="223.85" r="1.25" fill="#6c0920"/>
<line x1="484.22" y1="189.13" x2="484.22" y2="215.17" stroke="#8a1232" stroke-width="1.15"/>
<circle cx="484.22" cy="189.13" r="1.25" fill="#6c0920"/>
<circle cx="484.22" cy="206.49" r="1.25" fill="#6c0920"/>
<circle cx="484.22" cy="215.17" r="1.25" fill="#6c0920"/>
<line x1="487.13" y1="189.13" x2="487.13" y2="223.85" stroke="#8a1232" stroke-width="1.15"/>
<circle cx="487.13" cy="189.13" r="1.25" fill="#6c0920"/>
<circle cx="487.13" cy="206.49" r="1.25" fill="#6c0920"/>
<circle cx="487.13" cy="223.85" r="1.25" fill="#6c0920"/>
<line x1="490.04" y1="180.45" x2="490.04" y2="215.17" stroke="#8a1232" stroke-width="1.15"/>
<circle cx="490.04" cy="180.45" r="1.25" fill="#6c0920"/>
<circle cx="490.04" cy="206.49" r="1.25" fill="#6c0920"/>
<circle cx="490.04" cy="215.17" r="1.25" fill="#6c0920"/>
<line x1="492.94" y1="189.13" x2="492.94" y2="232.53" stroke="#8a1232" stroke-width="1.15"/>
<circle cx="492.94" cy="189.13" r="1.25" fill="#6c0920"/>
<circle cx="492.94" cy="206.49" r="1.25" fill="#6c0920"/>
<circle cx="492.94" cy="232.53" r="1.25" fill="#6c0920"/>
<line x1="495.85" y1="189.13" x2="495.85" y2="232.53" stroke="#8a1232" stroke-width="1.15"/>
<circle cx="495.85" cy="189.13" r="1.25" fill="#6c0920"/>
<circle cx="495.85" cy="215.17" r="1.25" fill="#6c0920"/>
<circle cx="495.85" cy="223.85" r="1.25" fill="#6c0920"/>
<circle cx="495.85" cy="232.53" r="1.25" fill="#6c0920"/>
<line x1="498.76" y1="189.13" x2="498.76" y2="223.85" stroke="#8a1232" stroke-width="1.15"/>
<circle cx="498.76" cy="189.13" r="1.25" fill="#6c0920"/>
<circle cx="498.76" cy="197.81" r="1.25" fill="#6c0920"/>
<circle cx="498.76" cy="206.49" r="1.25" fill="#6c0920"/>
<circle cx="498.76" cy="223.85" r="1.25" fill="#6c0920"/>
<line x1="501.67" y1="180.45" x2="501.67" y2="232.53" stroke="#8a1232" stroke-width="1.15"/>
<circle cx="501.67" cy="180.45" r="1.25" fill="#6c0920"/>
<circle cx="501.67" cy="197.81" r="1.25" fill="#6c0920"/>
<circle cx="501.67" cy="206.49" r="1.25" fill="#6c0920"/>
<circle cx="501.67" cy="223.85" r="1.25" fill="#6c0920"/>
<circle cx="501.67" cy="232.53" r="1.25" fill="#6c0920"/>
<line x1="504.58" y1="189.13" x2="504.58" y2="223.85" stroke="#8a1232" stroke-width="1.15"/>
<circle cx="504.58" cy="189.13" r="1.25" fill="#6c0920"/>
<circle cx="504.58" cy="197.81" r="1.25" fill="#6c0920"/>
<circle cx="504.58" cy="223.85" r="1.25" fill="#6c0920"/>
<line x1="507.48" y1="189.13" x2="507.48" y2="232.53" stroke="#8a1232" stroke-width="1.15"/>
<circle cx="507.48" cy="189.13" r="1.25" fill="#6c0920"/>
<circle cx="507.48" cy="197.81" r="1.25" fill="#6c0920"/>
<circle cx="507.48" cy="215.17" r="1.25" fill="#6c0920"/>
<circle cx="507.48" cy="232.53" r="1.25" fill="#6c0920"/>
<line x1="510.39" y1="180.45" x2="510.39" y2="232.53" stroke="#8a1232" stroke-width="1.15"/>
<circle cx="510.39" cy="180.45" r="1.25" fill="#6c0920"/>
<circle cx="510.39" cy="189.13" r="1.25" fill="#6c0920"/>
<circle cx="510.39" cy="197.81" r="1.25" fill="#6c0920"/>
<circle cx="510.39" cy="206.49" r="1.25" fill="#6c0920"/>
<circle cx="510.39" cy="223.85" r="1.25" fill="#6c0920"/>
<circle cx="510.39" cy="232.53" r="1.25" fill="#6c0920"/>
<rect x="293.75" y="27.90" width="2.908" height="143.40" fill="url(#bg)"/>
<rect x="296.65" y="84.10" width="2.908" height="87.20" fill="url(#bg)"/>
<rect x="299.56" y="110.30" width="2.908" height="61.00" fill="url(#bg)"/>
<rect x="302.47" y="128.10" width="2.908" height="43.20" fill="url(#bg)"/>
<rect x="305.38" y="131.00" width="2.908" height="40.30" fill="url(#bg)"/>
<rect x="308.29" y="132.20" width="2.908" height="39.10" fill="url(#bg)"/>
<rect x="311.19" y="139.50" width="2.908" height="31.80" fill="url(#bg)"/>
<rect x="314.10" y="140.70" width="2.908" height="30.60" fill="url(#bg)"/>
<rect x="317.01" y="150.30" width="2.908" height="21.00" fill="url(#bg)"/>
<rect x="319.92" y="152.20" width="2.908" height="19.10" fill="url(#bg)"/>
<rect x="322.83" y="153.00" width="2.908" height="18.30" fill="url(#bg)"/>
<rect x="325.73" y="153.70" width="2.908" height="17.60" fill="url(#bg)"/>
<rect x="328.64" y="155.50" width="2.908" height="15.80" fill="url(#bg)"/>
<rect x="331.55" y="157.00" width="2.908" height="14.30" fill="url(#bg)"/>
<rect x="334.46" y="158.00" width="2.908" height="13.30" fill="url(#bg)"/>
<rect x="337.37" y="160.40" width="2.908" height="10.90" fill="url(#bg)"/>
<rect x="340.27" y="161.40" width="2.908" height="9.90" fill="url(#bg)"/>
<rect x="343.18" y="162.60" width="2.908" height="8.70" fill="url(#bg)"/>
<rect x="346.09" y="163.20" width="2.908" height="8.10" fill="url(#bg)"/>
<rect x="349.00" y="163.80" width="2.908" height="7.50" fill="url(#bg)"/>
<rect x="351.91" y="164.30" width="2.908" height="7.00" fill="url(#bg)"/>
<rect x="354.81" y="164.60" width="2.908" height="6.70" fill="url(#bg)"/>
<rect x="357.72" y="164.90" width="2.908" height="6.40" fill="url(#bg)"/>
<rect x="360.63" y="165.30" width="2.908" height="6.00" fill="url(#bg)"/>
<rect x="363.54" y="165.50" width="2.908" height="5.80" fill="url(#bg)"/>
<rect x="366.45" y="165.70" width="2.908" height="5.60" fill="url(#bg)"/>
<rect x="369.35" y="166.10" width="2.908" height="5.20" fill="url(#bg)"/>
<rect x="372.26" y="166.30" width="2.908" height="5.00" fill="url(#bg)"/>
<rect x="375.17" y="166.60" width="2.908" height="4.70" fill="url(#bg)"/>
<rect x="378.08" y="167.20" width="2.908" height="4.10" fill="url(#bg)"/>
<rect x="380.99" y="167.60" width="2.908" height="3.70" fill="url(#bg)"/>
<rect x="383.89" y="167.80" width="2.908" height="3.50" fill="url(#bg)"/>
<rect x="386.80" y="167.80" width="2.908" height="3.50" fill="url(#bg)"/>
<rect x="389.71" y="167.80" width="2.908" height="3.50" fill="url(#bg)"/>
<rect x="392.62" y="168.00" width="2.908" height="3.30" fill="url(#bg)"/>
<rect x="395.53" y="168.00" width="2.908" height="3.30" fill="url(#bg)"/>
<rect x="398.43" y="168.00" width="2.908" height="3.30" fill="url(#bg)"/>
<rect x="401.34" y="168.10" width="2.908" height="3.20" fill="url(#bg)"/>
<rect x="404.25" y="168.20" width="2.908" height="3.10" fill="url(#bg)"/>
<rect x="407.16" y="168.30" width="2.908" height="3.00" fill="url(#bg)"/>
<rect x="410.07" y="168.42" width="2.908" height="2.88" fill="url(#bg)"/>
<rect x="412.97" y="168.54" width="2.908" height="2.76" fill="url(#bg)"/>
<rect x="415.88" y="168.66" width="2.908" height="2.64" fill="url(#bg)"/>
<rect x="418.79" y="168.78" width="2.908" height="2.52" fill="url(#bg)"/>
<rect x="421.70" y="168.90" width="2.908" height="2.40" fill="url(#bg)"/>
<rect x="424.61" y="169.06" width="2.908" height="2.24" fill="url(#bg)"/>
<rect x="427.51" y="169.22" width="2.908" height="2.08" fill="url(#bg)"/>
<rect x="430.42" y="169.38" width="2.908" height="1.92" fill="url(#bg)"/>
<rect x="433.33" y="169.54" width="2.908" height="1.76" fill="url(#bg)"/>
<rect x="436.24" y="169.70" width="2.908" height="1.60" fill="url(#bg)"/>
<rect x="439.15" y="169.85" width="2.908" height="1.45" fill="url(#bg)"/>
<rect x="442.05" y="170.00" width="2.908" height="1.30" fill="url(#bg)"/>
<rect x="444.96" y="170.15" width="2.908" height="1.15" fill="url(#bg)"/>
<rect x="447.87" y="170.25" width="2.908" height="1.05" fill="url(#bg)"/>
<rect x="450.78" y="170.35" width="2.908" height="0.95" fill="url(#bg)"/>
<rect x="453.69" y="170.45" width="2.908" height="0.85" fill="url(#bg)"/>
<rect x="456.59" y="170.51" width="2.908" height="0.79" fill="url(#bg)"/>
<rect x="459.50" y="170.58" width="2.908" height="0.72" fill="url(#bg)"/>
<rect x="462.41" y="170.64" width="2.908" height="0.66" fill="url(#bg)"/>
<rect x="465.32" y="170.70" width="2.908" height="0.60" fill="url(#bg)"/>
<rect x="468.23" y="170.74" width="2.908" height="0.56" fill="url(#bg)"/>
<rect x="471.13" y="170.78" width="2.908" height="0.52" fill="url(#bg)"/>
<rect x="474.04" y="170.82" width="2.908" height="0.48" fill="url(#bg)"/>
<rect x="476.95" y="170.86" width="2.908" height="0.44" fill="url(#bg)"/>
<rect x="479.86" y="170.90" width="2.908" height="0.40" fill="url(#bg)"/>
<rect x="482.77" y="170.92" width="2.908" height="0.38" fill="url(#bg)"/>
<rect x="485.67" y="170.94" width="2.908" height="0.36" fill="url(#bg)"/>
<rect x="488.58" y="170.96" width="2.908" height="0.34" fill="url(#bg)"/>
<rect x="491.49" y="170.98" width="2.908" height="0.32" fill="url(#bg)"/>
<rect x="494.40" y="171.00" width="2.908" height="0.30" fill="url(#bg)"/>
<rect x="497.31" y="171.02" width="2.908" height="0.28" fill="url(#bg)"/>
<rect x="500.21" y="171.04" width="2.908" height="0.26" fill="url(#bg)"/>
<rect x="503.12" y="171.06" width="2.908" height="0.24" fill="url(#bg)"/>
<rect x="506.03" y="171.08" width="2.908" height="0.22" fill="url(#bg)"/>
<rect x="508.94" y="171.10" width="2.908" height="0.20" fill="url(#bg)"/>
<line x1="292.7" y1="5.8" x2="292.7" y2="173.8" stroke="#000" stroke-width="1.3"/>
<line x1="292.0" y1="171.30" x2="513.5" y2="171.30" stroke="#000" stroke-width="1.4"/>
<line x1="290.2" y1="171.30" x2="292.2" y2="171.30" stroke="#000" stroke-width="0.7"/>
<text x="287.8" y="173.10" font-size="5.2" text-anchor="end" fill="#111" stroke="#111" stroke-width="0.12">0</text>
<line x1="290.2" y1="138.05" x2="292.2" y2="138.05" stroke="#000" stroke-width="0.7"/>
<text x="287.8" y="139.85" font-size="5.2" text-anchor="end" fill="#111" stroke="#111" stroke-width="0.12">1000</text>
<line x1="290.2" y1="104.80" x2="292.2" y2="104.80" stroke="#000" stroke-width="0.7"/>
<text x="287.8" y="106.60" font-size="5.2" text-anchor="end" fill="#111" stroke="#111" stroke-width="0.12">2000</text>
<line x1="290.2" y1="71.55" x2="292.2" y2="71.55" stroke="#000" stroke-width="0.7"/>
<text x="287.8" y="73.35" font-size="5.2" text-anchor="end" fill="#111" stroke="#111" stroke-width="0.12">3000</text>
<line x1="290.2" y1="38.30" x2="292.2" y2="38.30" stroke="#000" stroke-width="0.7"/>
<text x="287.8" y="40.10" font-size="5.2" text-anchor="end" fill="#111" stroke="#111" stroke-width="0.12">4000</text>
<text transform="translate(270.9,88.0) rotate(-90)" font-size="7.0" textLength="61.5" lengthAdjust="spacingAndGlyphs" text-anchor="middle" fill="#111" stroke="#111" stroke-width="0.1">Transcript intersections</text>
<text transform="translate(333.2,152.6) rotate(-22)" font-size="5.0" text-anchor="middle" fill="#1a1a1a" stroke="#1a1a1a" stroke-width="0.12">538</text>
<text transform="translate(399.9,165.5) rotate(-22)" font-size="5.0" text-anchor="middle" fill="#1a1a1a" stroke="#1a1a1a" stroke-width="0.12">109</text>
<text transform="translate(463.2,168.8) rotate(-22)" font-size="5.0" text-anchor="middle" fill="#1a1a1a" stroke="#1a1a1a" stroke-width="0.12">30</text>
<text x="235.5" y="182.45" font-size="5.3" text-anchor="middle" fill="#111" stroke="#111" stroke-width="0.1">EV_DLBCL.patient.sample.DLBCL</text>
<text x="235.5" y="191.03" font-size="5.3" text-anchor="middle" fill="#111" stroke="#111" stroke-width="0.1">EV_normal.B.cell.sample.NB</text>
<text x="235.5" y="199.61" font-size="5.3" text-anchor="middle" fill="#111" stroke="#111" stroke-width="0.1">whole.cell_normal.B.cell.sample.GCB</text>
<text x="235.5" y="208.19" font-size="5.3" text-anchor="middle" fill="#111" stroke="#111" stroke-width="0.1">whole.cell_DLBCL.patient.sample.DLBCL</text>
<text x="235.5" y="216.77" font-size="5.3" text-anchor="middle" fill="#111" stroke="#111" stroke-width="0.1">whole.cell_normal.B.cell.sample.NB</text>
<text x="235.5" y="225.35" font-size="5.3" text-anchor="middle" fill="#111" stroke="#111" stroke-width="0.1">whole.cell_DLBCL.human.cell.line.CL</text>
<text x="235.5" y="233.93" font-size="5.3" text-anchor="middle" fill="#111" stroke="#111" stroke-width="0.1">EV_DLBCL.human.cell.line.CL</text>
<rect x="144.60" y="178.05" width="33.10" height="4.8" fill="#2b4a7f" stroke="#1b2f55" stroke-width="0.4"/>
<rect x="105.20" y="186.73" width="72.50" height="4.8" fill="#2b4a7f" stroke="#1b2f55" stroke-width="0.4"/>
<rect x="92.50" y="195.41" width="85.20" height="4.8" fill="#2b4a7f" stroke="#1b2f55" stroke-width="0.4"/>
<rect x="92.50" y="204.09" width="85.20" height="4.8" fill="#2b4a7f" stroke="#1b2f55" stroke-width="0.4"/>
<rect x="92.50" y="212.77" width="85.20" height="4.8" fill="#2b4a7f" stroke="#1b2f55" stroke-width="0.4"/>
<rect x="92.50" y="221.45" width="85.20" height="4.8" fill="#2b4a7f" stroke="#1b2f55" stroke-width="0.4"/>
<rect x="92.50" y="230.13" width="85.20" height="4.8" fill="#2b4a7f" stroke="#1b2f55" stroke-width="0.4"/>
<line x1="88.5" y1="238.3" x2="181.5" y2="238.3" stroke="#000" stroke-width="1.1"/>
<line x1="177.70" y1="238.3" x2="177.70" y2="241" stroke="#000" stroke-width="0.8"/>
<text transform="translate(181.10,246.3) rotate(-45)" font-size="4.0" text-anchor="end" fill="#111" stroke="#111" stroke-width="0.12">0</text>
<line x1="155.90" y1="238.3" x2="155.90" y2="241" stroke="#000" stroke-width="0.8"/>
<text transform="translate(159.30,246.3) rotate(-45)" font-size="4.0" text-anchor="end" fill="#111" stroke="#111" stroke-width="0.12">2500</text>
<line x1="134.10" y1="238.3" x2="134.10" y2="241" stroke="#000" stroke-width="0.8"/>
<text transform="translate(137.50,246.3) rotate(-45)" font-size="4.0" text-anchor="end" fill="#111" stroke="#111" stroke-width="0.12">5000</text>
<line x1="112.30" y1="238.3" x2="112.30" y2="241" stroke="#000" stroke-width="0.8"/>
<text transform="translate(115.70,246.3) rotate(-45)" font-size="4.0" text-anchor="end" fill="#111" stroke="#111" stroke-width="0.12">7500</text>
<line x1="90.50" y1="238.3" x2="90.50" y2="241" stroke="#000" stroke-width="0.8"/>
<text transform="translate(93.90,246.3) rotate(-45)" font-size="4.0" text-anchor="end" fill="#111" stroke="#111" stroke-width="0.12">10000</text>
<text x="134.6" y="260.9" font-size="4.5" textLength="59.3" lengthAdjust="spacingAndGlyphs" text-anchor="middle" fill="#222" stroke="#222" stroke-width="0.08">Number of expressed transcripts</text>
<text x="32.1" y="172.3" font-size="4.3" text-anchor="middle" fill="#111" stroke="#111" stroke-width="0.14">Biological type</text>
<text x="75.1" y="172.3" font-size="4.3" text-anchor="middle" fill="#111" stroke="#111" stroke-width="0.14">Total RNA origin</text>
<text x="32.2" y="182.10" font-size="4.3" text-anchor="middle" fill="#111">patient sample (DLBCL)</text>
<text x="75" y="182.10" font-size="4.3" text-anchor="middle" fill="#8a8030">EV</text>
<text x="32.2" y="190.72" font-size="4.3" text-anchor="middle" fill="#a2a6aa">normal B cell sample (NB)</text>
<text x="75" y="190.72" font-size="4.3" text-anchor="middle" fill="#8a8030">EV</text>
<text x="32.2" y="199.34" font-size="4.3" text-anchor="middle" fill="#c3c8ae">normal B cell sample (GCB)</text>
<text x="75" y="199.34" font-size="4.3" text-anchor="middle" fill="#555">whole cell</text>
<text x="32.2" y="207.96" font-size="4.3" text-anchor="middle" fill="#111">patient sample (DLBCL)</text>
<text x="75" y="207.96" font-size="4.3" text-anchor="middle" fill="#555">whole cell</text>
<text x="32.2" y="216.58" font-size="4.3" text-anchor="middle" fill="#a2a6aa">normal B cell sample (NB)</text>
<text x="75" y="216.58" font-size="4.3" text-anchor="middle" fill="#555">whole cell</text>
<text x="32.2" y="225.20" font-size="4.3" text-anchor="middle" fill="#e2d46c">DLBCL human cell line (CL)</text>
<text x="75" y="225.20" font-size="4.3" text-anchor="middle" fill="#555">whole cell</text>
<text x="32.2" y="233.82" font-size="4.3" text-anchor="middle" fill="#e2d46c">DLBCL human cell line (CL)</text>
<text x="75" y="233.82" font-size="4.3" text-anchor="middle" fill="#8a8030">EV</text>
<rect x="0.5" y="0.5" width="519" height="269" fill="none" stroke="#000" stroke-width="1.2"/>
</svg></body></html>
